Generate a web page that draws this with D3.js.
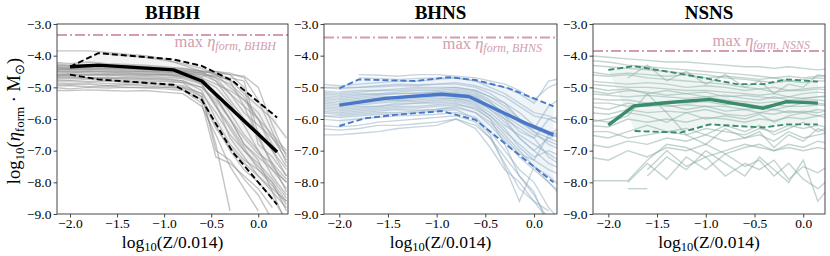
<!DOCTYPE html>
<html>
<head>
<meta charset="utf-8">
<script src="https://cdn.jsdelivr.net/npm/d3@7"></script>
<style>
  body { margin: 0; background: #fff; }
  text { font-family: "Liberation Serif", "Times New Roman", serif; }
</style>
</head>
<body>
<svg id="fig" width="830" height="256"></svg>
<script>
// shared x grid of the thin per-model curves, log10(Z/0.014)
var gridX = [-2.2, -2.0, -1.8, -1.6, -1.4, -1.2, -1.0, -0.8, -0.6, -0.45, -0.3, -0.15, 0.0, 0.15, 0.3];

var titles = ["BHBH", "BHNS", "NSNS"];
var maxEta = [-3.35, -3.43, -3.85];
var yTicks = [-3, -4, -5, -6, -7, -8, -9];
var xTicks = [-2.0, -1.5, -1.0, -0.5, 0.0];

// BHBH
var bhbhLines = [
  [-4.35,-4.4,-4.38,-4.36,-4.4,-4.42,-4.45,-4.5,-4.7,-5.2,-5.8,-6.5,-7.0,-7.6,-8.2],
  [-4.5,-4.5,-4.48,-4.5,-4.52,-4.5,-4.55,-4.6,-4.9,-5.6,-6.3,-7.0,-7.5,-8.0,-8.6],
  [-4.7,-4.68,-4.7,-4.72,-4.7,-4.72,-4.75,-4.8,-5.1,-6.0,-6.8,-7.3,-7.6,-8.1,-8.7],
  [-4.25,-4.3,-4.28,-4.3,-4.32,-4.35,-4.4,-4.45,-4.55,-4.7,-4.9,-5.3,-6.0,-6.8,-7.5],
  [null,null,-3.85,-3.9,-3.95,-4.0,-4.1,-4.3,-4.5,-4.8,-5.2,-5.6,-6.0,-6.5,-7.0],
  [-4.9,-4.92,-4.9,-4.95,-4.92,-4.95,-5.0,-5.0,-5.3,-6.2,-7.0,-7.6,-8.0,-8.5,-9.2],
  [-4.6,-4.62,-4.6,-4.58,-4.6,-4.62,-4.6,-4.65,-4.75,-5.0,-5.5,-6.2,-7.0,-7.8,-8.4],
  [-4.4,-4.45,-4.42,-4.45,-4.48,-4.5,-4.5,-4.55,-4.65,-4.6,-4.7,-4.8,-6.5,-7.5,-8.0],
  [-4.3,-4.35,-4.3,-4.32,-4.35,-4.38,-4.4,-4.45,-4.5,-4.55,-4.6,-5.0,-6.8,-7.2,-7.8],
  [-5.0,-5.05,-5.0,-5.02,-5.0,-5.02,-5.05,-5.1,-5.5,-7.2,-7.4,-7.8,-8.2,-8.8,null],
  [-4.8,-4.8,-4.82,-4.8,-4.85,-4.85,-4.9,-4.95,-5.2,-5.8,-6.5,-7.0,-7.4,-7.9,-8.5],
  [-4.55,-4.55,-4.5,-4.52,-4.55,-4.55,-4.58,-4.6,-4.8,-5.3,-6.0,-6.6,-7.1,-7.4,-7.9],
  [-4.45,-4.48,-4.5,-4.48,-4.5,-4.5,-4.52,-4.55,-4.6,-4.8,-5.4,-6.0,-6.4,-7.0,-7.6],
  [-5.1,-5.1,-5.08,-5.1,-5.12,-5.1,-5.15,-5.2,-5.6,-6.5,-7.5,-8.2,-8.9,null,null],
  [-4.2,-4.25,-4.2,-4.25,-4.28,-4.3,-4.35,-4.4,-4.5,-4.5,-4.6,-4.65,-5.0,-6.2,-7.2],
  [-4.65,-4.65,-4.7,-4.68,-4.7,-4.7,-4.72,-4.8,-5.0,-5.5,-6.6,-7.2,-7.8,-8.3,-8.8],
  [-4.5,-4.52,-4.55,-4.55,-4.55,-4.58,-4.6,-4.65,-4.7,-4.9,-5.1,-5.4,-5.8,-6.6,-7.3],
  [-4.75,-4.78,-4.75,-4.78,-4.8,-4.8,-4.82,-4.85,-5.0,-5.4,-6.0,-6.8,-7.2,-7.6,-8.0],
  [-4.35,-4.38,-4.36,-4.4,-4.4,-4.42,-4.45,-4.48,-4.55,-4.7,-5.2,-5.8,-6.2,-6.6,-7.1],
  [-4.85,-4.88,-4.85,-4.88,-4.9,-4.9,-4.95,-5.0,-5.2,-7.0,-7.3,-7.9,-8.4,-9.2,null],
  [-4.6,-4.58,-4.6,-4.62,-4.6,-4.6,-4.62,-4.68,-4.85,-5.3,-6.0,-6.8,-7.3,-8.3,-9.3],
  [-4.4,-4.42,-4.4,-4.42,-4.45,-4.45,-4.5,-4.52,-4.6,-4.65,-4.75,-5.2,-5.6,-6.0,-6.6],
  [null,null,null,-3.95,-4.0,-4.05,-4.15,-4.25,-4.4,-4.6,-5.0,-5.4,-6.0,-7.0,-7.8],
  [-4.95,-4.95,-4.98,-4.95,-5.0,-5.0,-5.0,-5.05,-5.4,-6.3,-6.9,-7.4,-7.8,-8.2,-8.6],
  [-4.7,-4.72,-4.7,-4.72,-4.75,-4.75,-4.78,-4.85,-5.3,-6.8,-8.9,null,null,null,null],
  [-3.85,-3.85,-3.85,null,null,null,null,null,null,null,null,null,null,null,null],
  [-4.45,-4.42,-4.45,-4.4,-4.42,-4.45,-4.45,-4.5,-4.55,-4.5,-4.55,-4.7,-5.4,-6.4,-7.4],
  [-4.65,-4.6,-4.62,-4.6,-4.65,-4.65,-4.68,-4.72,-4.9,-5.6,-6.2,-6.9,-7.6,-8.0,-8.9],
  [-4.3,-4.32,-4.35,-4.3,-4.32,-4.35,-4.38,-4.4,-4.48,-4.6,-4.8,-5.6,-6.6,-7.4,-8.3]
];
var bhbhMedX = [-2.0, -1.7, -0.9, -0.6, 0.2];
var bhbhMedY = [-4.35, -4.3, -4.45, -4.8, -7.04];
var bhbhHiX = [-2.0, -1.7, -0.9, -0.6, -0.27, 0.2];
var bhbhHiY = [-4.35, -3.92, -4.12, -4.32, -4.8, -5.95];
var bhbhLoX = [-2.0, -1.7, -0.9, -0.6, -0.27, 0.2];
var bhbhLoY = [-4.6, -4.75, -4.92, -5.4, -7.05, -8.7];

// BHNS
var bhnsLines = [
  [-5.2,-5.25,-5.2,-5.22,-5.2,-5.18,-5.15,-5.2,-5.3,-5.6,-5.9,-6.2,-6.5,-6.7,-6.9],
  [-5.5,-5.55,-5.5,-5.45,-5.4,-5.45,-5.4,-5.35,-5.5,-5.8,-6.2,-6.5,-6.8,-7.1,-7.4],
  [-5.0,-5.05,-5.0,-4.95,-4.9,-4.92,-4.9,-4.85,-4.95,-5.1,-5.3,-5.6,-5.9,-6.0,-6.2],
  [null,null,-4.7,-4.72,-4.75,-4.72,-4.7,-4.7,-4.8,-4.9,-5.0,-5.2,-5.5,-4.8,-4.7],
  [-5.8,-5.85,-5.8,-5.75,-5.7,-5.72,-5.7,-5.6,-5.8,-6.2,-6.7,-7.2,-7.6,-8.0,-8.4],
  [-6.2,-6.25,-6.2,-6.1,-6.05,-6.0,-5.95,-5.9,-6.1,-6.6,-7.2,-7.8,-8.4,-9.2,null],
  [-5.35,-5.4,-5.35,-5.3,-5.3,-5.25,-5.2,-5.15,-5.25,-5.5,-5.8,-6.1,-6.4,-6.6,-6.8],
  [-5.6,-5.65,-5.6,-5.6,-5.55,-5.5,-5.5,-5.45,-5.6,-5.9,-6.4,-6.8,-7.2,-7.0,-7.2],
  [-4.9,-4.95,-4.9,-4.85,-4.8,-4.8,-4.75,-4.7,-4.8,-5.0,-5.2,-5.5,-5.8,-5.9,-6.1],
  [-6.5,-6.5,-6.45,-6.4,-6.3,-6.25,-6.2,-6.0,-6.3,-6.9,-7.6,-8.0,-8.6,-9.2,null],
  [-5.1,-5.15,-5.1,-5.1,-5.05,-5.0,-5.0,-5.0,-5.1,-5.3,-5.5,-5.8,-6.2,-6.4,-6.5],
  [-5.7,-5.75,-5.7,-5.65,-5.6,-5.6,-5.55,-5.5,-5.7,-6.0,-6.5,-7.0,-7.5,-7.8,-8.2],
  [-5.45,-5.5,-5.45,-5.4,-5.4,-5.35,-5.3,-5.3,-5.4,-5.7,-6.0,-6.3,-6.6,-6.0,-5.9],
  [-6.0,-6.05,-6.0,-5.95,-5.9,-5.88,-5.85,-5.8,-5.95,-6.4,-7.0,-7.6,-8.0,-8.8,-9.3],
  [null,null,-4.6,-4.62,-4.65,-4.6,-4.6,-4.65,-4.7,-4.8,-4.9,-5.1,-5.4,-5.0,-4.8],
  [-5.3,-5.35,-5.3,-5.25,-5.2,-5.2,-5.15,-5.1,-5.2,-5.45,-5.9,-6.4,-6.6,-7.2,-7.5],
  [-5.9,-5.9,-5.85,-5.8,-5.8,-5.75,-5.7,-5.65,-5.8,-6.1,-6.6,-7.1,-7.3,-7.6,-7.8],
  [-5.15,-5.2,-5.15,-5.1,-5.1,-5.05,-5.05,-5.0,-5.1,-5.3,-5.6,-6.0,-6.3,-6.5,-6.6],
  [-6.3,-6.35,-6.3,-6.2,-6.2,-6.15,-6.1,-6.0,-6.2,-6.6,-7.4,-8.2,-8.6,-8.9,null],
  [-5.55,-5.6,-5.55,-5.5,-5.45,-5.4,-5.35,-5.35,-5.45,-5.7,-6.1,-6.6,-7.0,-6.6,-6.4],
  [-5.0,-5.0,-5.0,-4.98,-4.95,-4.95,-4.9,-4.9,-5.0,-5.2,-5.5,-6.0,-6.4,-6.8,-7.0],
  [-5.75,-5.8,-5.75,-5.7,-5.65,-5.65,-5.6,-5.55,-5.65,-6.0,-6.8,-7.8,-8.3,-9.4,null],
  [-5.25,-5.3,-5.25,-5.2,-5.15,-5.1,-5.1,-5.05,-5.15,-5.4,-5.7,-6.1,-6.3,-5.6,-5.3],
  [-5.9,-5.95,-5.9,-5.85,-5.85,-5.8,-5.75,-5.7,-6.0,-6.5,-7.5,-8.6,-7.5,-8.0,-8.5],
  [-5.4,-5.45,-5.4,-5.35,-5.35,-5.3,-5.25,-5.2,-5.3,-5.6,-6.0,-6.6,-7.0,-7.4,-7.6],
  [-5.65,-5.7,-5.65,-5.6,-5.5,-5.5,-5.45,-5.4,-5.55,-5.9,-6.3,-6.9,-7.3,-6.5,-6.2]
];
var bhnsMedX = [-2.0, -1.53, -0.95, -0.67, -0.09, 0.2];
var bhnsMedY = [-5.56, -5.35, -5.22, -5.29, -6.13, -6.5];
var bhnsHiX = [-2.0, -1.8, -1.22, -0.88, -0.6, -0.26, 0.2];
var bhnsHiY = [-5.03, -4.75, -4.8, -4.68, -4.77, -5.03, -5.6];
var bhnsLoX = [-2.0, -1.74, -1.43, -0.95, -0.6, -0.26, 0.2];
var bhnsLoY = [-6.22, -5.98, -5.87, -5.75, -6.03, -6.87, -8.0];

// NSNS
var nsnsLines = [
  [-4.0,-4.05,-4.1,-4.15,-4.2,-4.2,-4.25,-4.3,-4.35,-4.35,-4.4,-4.35,-4.4,-4.45,-4.4],
  [-4.3,-4.35,-4.4,-4.45,-4.5,-4.55,-4.6,-4.7,-4.75,-4.8,-4.85,-4.8,-4.85,-4.8,-4.8],
  [-4.6,-4.65,-4.6,-4.7,-4.75,-4.8,-4.85,-4.9,-5.0,-5.05,-5.0,-5.1,-5.05,-5.0,-5.0],
  [-4.9,-4.95,-5.0,-5.0,-5.05,-5.1,-5.1,-5.15,-5.2,-5.25,-5.2,-5.3,-5.2,-5.15,-5.2],
  [-5.2,-5.25,-5.3,-5.25,-5.3,-5.35,-5.3,-5.4,-5.45,-5.5,-5.45,-5.5,-5.4,-5.4,-5.45],
  [-5.5,-5.5,-5.6,-5.5,-5.6,-5.55,-5.6,-5.6,-5.7,-5.65,-5.7,-5.6,-5.6,-5.55,-5.6],
  [-5.8,-5.85,-5.7,-5.8,-5.75,-5.8,-5.7,-5.85,-5.9,-5.8,-5.85,-5.75,-5.8,-5.7,-5.75],
  [-6.2,-6.25,-6.0,-6.1,-6.0,-6.1,-5.95,-6.0,-6.1,-6.0,-6.05,-5.95,-6.0,-5.9,-6.0],
  [-6.4,-6.4,-6.6,-6.5,-6.4,-6.5,-6.3,-6.4,-6.5,-6.3,-6.4,-6.2,-6.3,-6.2,-6.3],
  [-6.8,-6.9,-6.7,-6.8,-6.6,-6.7,-6.5,-6.7,-6.6,-6.5,-6.7,-6.4,-6.6,-6.5,-6.4],
  [-7.2,-7.3,-7.0,-7.2,-6.9,-7.0,-6.8,-7.1,-6.9,-6.8,-7.0,-6.8,-6.9,-6.7,-6.8],
  [-7.95,-7.95,-7.95,-7.3,-6.8,-6.9,-7.2,-7.0,-6.8,-6.9,-7.0,-6.9,-7.0,-6.9,-7.0],
  [null,null,null,-7.6,-7.0,-7.5,-7.2,-7.8,-7.4,-7.6,-7.3,-7.9,-7.5,-7.7,-7.4],
  [null,null,-8.0,-7.4,-7.9,-7.2,-7.6,-7.1,-7.5,-7.3,-7.8,-7.4,-7.9,-8.2,-7.8],
  [-6.0,-6.1,-5.9,-5.2,-5.8,-6.5,-6.8,-6.3,-6.6,-6.4,-6.9,-6.5,-6.7,-6.3,-6.5],
  [-4.5,-4.6,-4.55,-4.6,-4.65,-4.6,-4.7,-4.65,-4.7,-4.75,-4.7,-4.8,-4.75,-4.7,-4.75],
  [-5.0,-5.1,-5.05,-5.2,-5.1,-5.2,-5.15,-5.3,-5.25,-5.3,-5.35,-5.3,-5.35,-5.3,-5.3],
  [-5.6,-5.7,-5.5,-5.6,-5.55,-5.7,-5.6,-5.75,-5.7,-5.8,-5.7,-5.8,-5.75,-5.8,-5.7],
  [null,null,null,-7.8,-7.2,-7.6,-7.0,-7.4,-7.8,-7.2,-7.6,-8.0,-7.3,-8.6,-8.0],
  [-6.5,-6.6,-6.4,-6.2,-6.4,-6.3,-6.5,-6.2,-6.4,-6.2,-6.5,-6.3,-6.1,-6.4,-6.2],
  [-4.8,-4.85,-4.9,-4.85,-4.9,-5.0,-4.95,-5.0,-5.1,-5.05,-5.15,-5.1,-5.1,-5.05,-5.1],
  [-5.35,-5.4,-5.4,-5.5,-5.45,-5.5,-5.45,-5.55,-5.5,-5.6,-5.55,-5.6,-5.5,-5.5,-5.55],
  [null,null,-4.7,-4.3,-4.8,-4.5,-4.9,-4.6,-5.0,-4.8,-5.2,-4.9,-5.0,-4.6,-4.7],
  [null,null,-8.2,-8.2,null,null,null,null,null,null,null,null,null,null,null],
  [-4.15,-4.2,-4.3,-4.35,-4.4,-4.45,-4.5,-4.55,-4.6,-4.65,-4.7,-4.65,-4.7,-4.65,-4.6],
  [-5.1,-5.2,-5.1,-5.15,-5.25,-5.2,-5.3,-5.25,-5.35,-5.4,-5.3,-5.4,-5.35,-5.3,-5.25],
  [-6.1,-6.0,-5.8,-5.9,-6.1,-5.8,-6.0,-5.9,-6.0,-5.85,-6.1,-5.9,-5.8,-5.9,-5.8]
];
var nsnsMedX = [-2.0, -1.74, -1.38, -0.96, -0.41, -0.17, 0.15];
var nsnsMedY = [-6.19, -5.59, -5.48, -5.38, -5.66, -5.45, -5.5];
var nsnsHiX = [-2.0, -1.74, -1.4, -1.06, -0.68, -0.41, -0.17, 0.15];
var nsnsHiY = [-4.45, -4.33, -4.5, -4.68, -4.9, -4.9, -4.75, -4.82];
var nsnsLoX = [-1.73, -1.26, -0.96, -0.41, -0.17, 0.15];
var nsnsLoY = [-6.38, -6.43, -6.17, -6.27, -6.17, -6.17];

var zip = (xs, ys) => xs.map((x, i) => [x, ys[i]]);

var panels = [
  { lines: bhbhLines, med: zip(bhbhMedX, bhbhMedY), hi: zip(bhbhHiX, bhbhHiY), lo: zip(bhbhLoX, bhbhLoY),
    left: 57, right: 288, xdom: [-2.138, 0.316], thin: "#8a8a8a", main: "#000000", fill: "#bdbdbd",
    labelY: -3.72, labelRight: 12 },
  { lines: bhnsLines, med: zip(bhnsMedX, bhnsMedY), hi: zip(bhnsHiX, bhnsHiY), lo: zip(bhnsLoX, bhnsLoY),
    left: 324, right: 557, xdom: [-2.157, 0.236], thin: "#8fabc2", main: "#4a78c9", fill: "#a9c0d6",
    labelY: -3.79, labelRight: 15 },
  { lines: nsnsLines, med: zip(nsnsMedX, nsnsMedY), hi: zip(nsnsHiX, nsnsHiY), lo: zip(nsnsLoX, nsnsLoY),
    left: 593, right: 825, xdom: [-2.157, 0.223], thin: "#88aaa4", main: "#3b8c6b", fill: "#a9c8bf",
    labelY: -3.68, labelRight: 15 }
];

var plotTop = 24, plotBottom = 214;
var svg = d3.select("#fig");
var pink = "#d39cb0";

var y = d3.scaleLinear().domain([-9, -3]).range([plotBottom, plotTop]);

panels.forEach((p, k) => {
  var x = d3.scaleLinear().domain(p.xdom).range([p.left, p.right]);
  var g = svg.append("g");

  g.append("clipPath").attr("id", "clip" + k)
    .append("rect").attr("x", p.left).attr("y", plotTop)
    .attr("width", p.right - p.left).attr("height", plotBottom - plotTop);

  var plot = g.append("g").attr("clip-path", "url(#clip" + k + ")");
  var line = d3.line().defined((d) => d[1] != null).x((d) => x(d[0])).y((d) => y(d[1]));

  // thin model curves
  p.lines.forEach((vals) => {
    plot.append("path")
      .attr("d", line(vals.map((v, i) => [gridX[i], v])))
      .attr("fill", "none")
      .attr("stroke", p.thin)
      .attr("stroke-width", 1.4)
      .attr("stroke-opacity", 0.5);
  });

  // faint band between percentiles
  var band = p.hi.concat(p.lo.slice().reverse());
  plot.append("path")
    .attr("d", line(band) + "Z")
    .attr("fill", p.fill)
    .attr("fill-opacity", 0.18)
    .attr("stroke", "none");

  // max formation efficiency
  plot.append("line")
    .attr("x1", p.left).attr("x2", p.right)
    .attr("y1", y(maxEta[k])).attr("y2", y(maxEta[k]))
    .attr("stroke", pink).attr("stroke-width", 2)
    .attr("stroke-dasharray", "10,3,2,3");

  [p.hi, p.lo].forEach((d) => {
    plot.append("path").attr("d", line(d))
      .attr("fill", "none").attr("stroke", p.main)
      .attr("stroke-width", 1.9).attr("stroke-dasharray", "6,3");
  });
  plot.append("path").attr("d", line(p.med))
    .attr("fill", "none").attr("stroke", p.main)
    .attr("stroke-width", 3.4).attr("stroke-linejoin", "round");

  // label for max line
  var lab = g.append("text")
    .attr("x", p.right - p.labelRight).attr("y", y(p.labelY))
    .attr("text-anchor", "end").attr("fill", pink).attr("font-size", 16.5);
  lab.append("tspan").text("max ");
  lab.append("tspan").attr("font-style", "italic").text("η");
  lab.append("tspan").attr("font-style", "italic").attr("font-size", 12).attr("dy", 3)
    .text("form, " + titles[k]);

  // frame
  g.append("rect").attr("x", p.left).attr("y", plotTop)
    .attr("width", p.right - p.left).attr("height", plotBottom - plotTop)
    .attr("fill", "none").attr("stroke", "#333").attr("stroke-width", 0.9);

  var ax = g.append("g").attr("transform", "translate(" + p.left + ",0)")
    .call(d3.axisLeft(y).tickValues(yTicks).tickSize(3.5).tickPadding(2).tickFormat(d3.format(".1f")));
  var bx = g.append("g").attr("transform", "translate(0," + plotBottom + ")")
    .call(d3.axisBottom(x).tickValues(xTicks).tickSize(3.5).tickPadding(1).tickFormat(d3.format(".1f")));
  [ax, bx].forEach((a) => {
    a.select(".domain").remove();
    a.selectAll("line").attr("stroke", "#333").attr("stroke-width", 0.9);
    a.selectAll("text").attr("font-size", 13.5).attr("fill", "#000")
      .attr("font-family", "Liberation Serif, serif");
  });

  // title
  g.append("text")
    .attr("x", (p.left + p.right) / 2).attr("y", 19)
    .attr("text-anchor", "middle").attr("font-size", 19).attr("font-weight", "bold")
    .text(titles[k]);

  // x label
  var xl = g.append("text")
    .attr("x", (p.left + p.right) / 2).attr("y", 248)
    .attr("text-anchor", "middle").attr("font-size", 17.5);
  xl.append("tspan").text("log");
  xl.append("tspan").attr("font-size", 12.5).attr("dy", 3).text("10");
  xl.append("tspan").attr("dy", -3).text("(Z/0.014)");
});

// y label
var yl = svg.append("text")
  .attr("transform", "translate(20,121) rotate(-90)")
  .attr("text-anchor", "middle").attr("font-size", 18.5);
yl.append("tspan").text("log");
yl.append("tspan").attr("font-size", 13).attr("dy", 3.5).text("10");
yl.append("tspan").attr("dy", -3.5).text("(");
yl.append("tspan").attr("font-style", "italic").text("η");
yl.append("tspan").attr("font-size", 13).attr("dy", 3.5).text("form");
yl.append("tspan").attr("dy", -3.5).text(" · M");
yl.append("tspan").attr("font-size", 13).attr("dy", 3.5).text("⊙");
yl.append("tspan").attr("dy", -3.5).text(")");
</script>
</body>
</html>
